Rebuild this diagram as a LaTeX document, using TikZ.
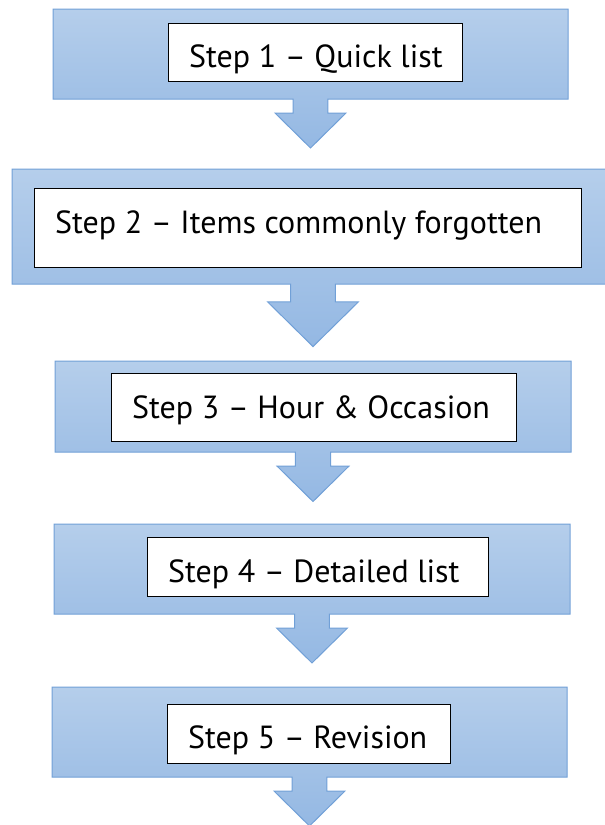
\documentclass[tikz,border=0pt]{standalone}
\usepackage{fontspec}
\setmainfont{PT Sans}
\usetikzlibrary{positioning}

\definecolor{calloutTop}{RGB}{181,206,235}
\definecolor{calloutBot}{RGB}{148,184,227}
\definecolor{calloutEdge}{RGB}{113,160,215}

\begin{document}
\begin{tikzpicture}[x=1pt, y=-1pt,
    callout/.style={draw=calloutEdge, line width=1pt, top color=calloutTop, bottom color=calloutBot},
    stepbox/.style={draw=black, fill=white, line width=1pt, inner sep=0pt},
    steplabel/.style={inner sep=0pt, anchor=base west, font=\fontsize{32}{38}\selectfont}]
		\clip (0,0) rectangle (605,825);
		
		% Callouts (box with a down arrow below it)
		\foreach \l/\t/\r/\b in {53/9/568/99, 12/169/614/284, 55/361/571/452, 54/524/570/614, 52/687/567/777} {
			\pgfmathsetmacro{\cx}{(\l+\r)/2}
			\pgfmathsetmacro{\hh}{\b-\t}
			\pgfmathsetmacro{\sw}{0.194*\hh}
			\pgfmathsetmacro{\hw}{0.394*\hh}
			\pgfmathsetmacro{\ny}{\b+0.156*\hh}
			\pgfmathsetmacro{\ty}{\b+0.544*\hh}
			\draw[callout] (\l,\t) -- (\r,\t) -- (\r,\b) -- ({\cx+\sw},\b) -- ({\cx+\sw},\ny)
				-- ({\cx+\hw},\ny) -- (\cx,\ty) -- ({\cx-\hw},\ny) -- ({\cx-\sw},\ny)
				-- ({\cx-\sw},\b) -- (\l,\b) -- cycle;
		}
		
		% White boxes
		\node[stepbox, minimum width=294pt, minimum height=58pt] (box1) at (315,52) {};
		\node[stepbox, minimum width=547pt, minimum height=79pt] (box2) at (307.5,227.5) {};
		\node[stepbox, minimum width=405pt, minimum height=68pt] (box3) at (313.5,407) {};
		\node[stepbox, minimum width=341pt, minimum height=59pt] (box4) at (317.5,566.5) {};
		\node[stepbox, minimum width=283pt, minimum height=59pt] (box5) at (308.5,733.5) {};
		
		% Labels
		\node[steplabel] (step1) at (189,67) {Step 1 – Quick list};
		\node[steplabel] (step2) at (55,233) {Step 2 – Items commonly forgotten};
		\node[steplabel] (step3) at (132,418) {Step 3 – Hour \& Occasion};
		\node[steplabel] (step4) at (168,582) {Step 4 – Detailed list};
		\node[steplabel] (step5) at (188,748) {Step 5 – Revision};
		
	\end{tikzpicture}
\end{document}
